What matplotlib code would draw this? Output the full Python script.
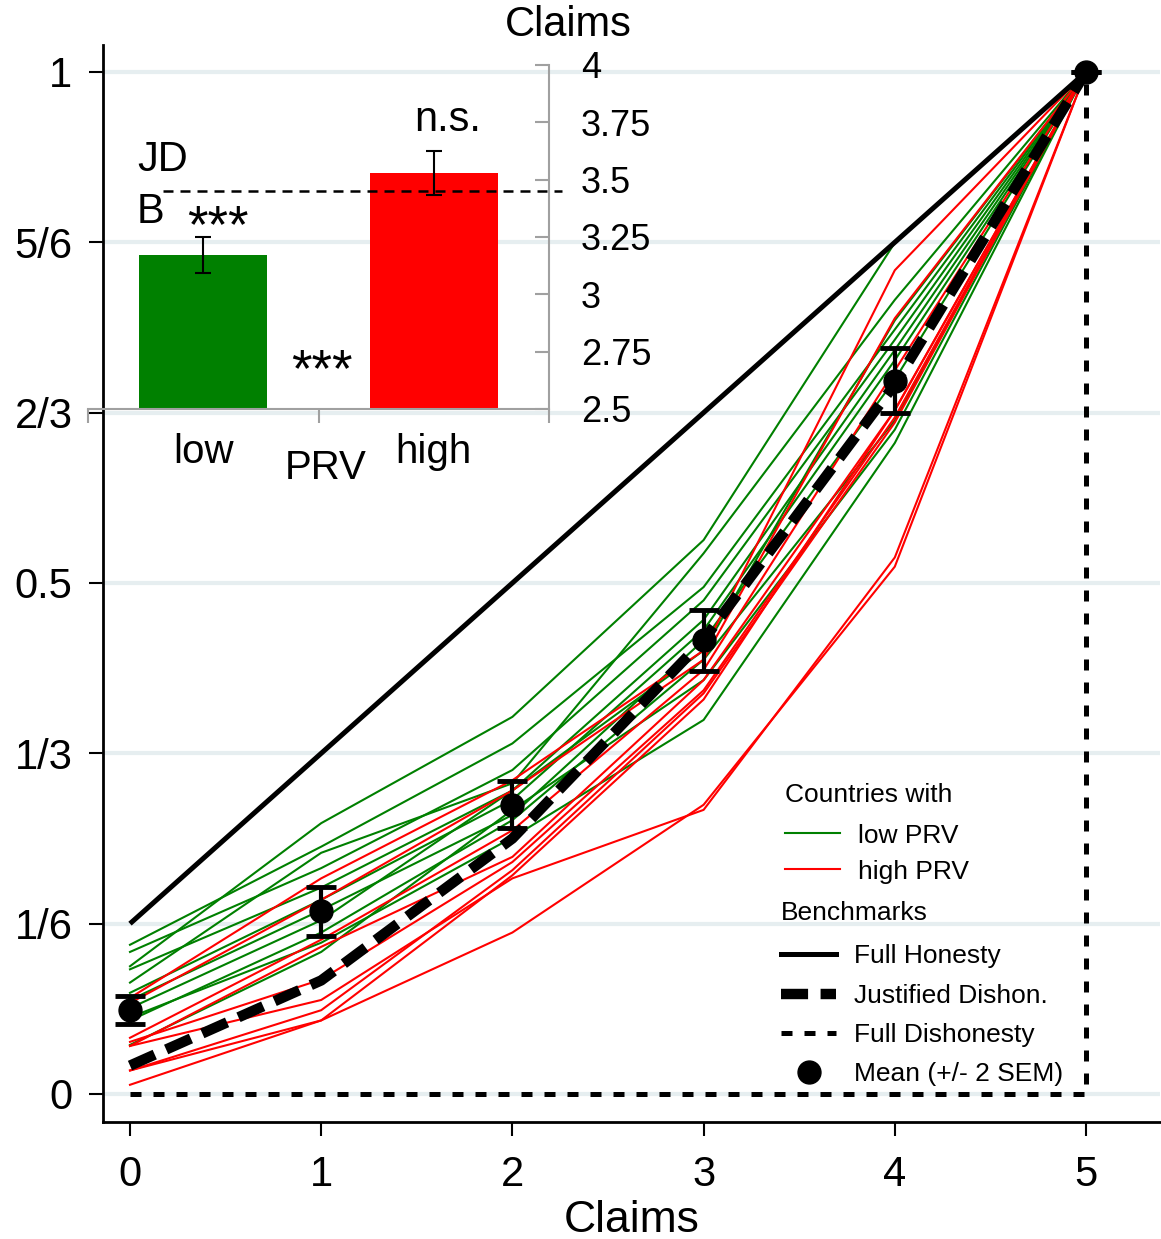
import matplotlib
matplotlib.use("Agg")
import matplotlib.pyplot as plt
from matplotlib.lines import Line2D

plt.rcParams['font.family'] = ['Liberation Sans', 'DejaVu Sans']

# ---------------- data ----------------
claims = [0, 1, 2, 3, 4, 5]
ytick_vals = [0, 1/6, 1/3, 0.5, 2/3, 5/6, 1]
ytick_labels = ['0', '1/6', '1/3', '0.5', '2/3', '5/6', '1']

full_honesty = [1/6, 2/6, 3/6, 4/6, 5/6, 1.0]
justified_dishonesty = [1/36, 4/36, 9/36, 16/36, 25/36, 1.0]
full_dishonesty_x = [0, 1, 2, 3, 4, 5, 5]
full_dishonesty_y = [0, 0, 0, 0, 0, 0, 1]

mean_cdf = [0.082, 0.179, 0.283, 0.444, 0.698, 1.0]
mean_err = [0.014, 0.024, 0.023, 0.030, 0.032, 0.0]

low_prv_lines = [
    [0.146, 0.242, 0.343, 0.496, 0.748, 1.0],
    [0.139, 0.221, 0.317, 0.483, 0.738, 1.0],
    [0.125, 0.265, 0.369, 0.542, 0.833, 1.0],
    [0.122, 0.202, 0.297, 0.464, 0.728, 1.0],
    [0.109, 0.236, 0.304, 0.529, 0.777, 1.0],
    [0.099, 0.190, 0.288, 0.454, 0.718, 1.0],
    [0.092, 0.180, 0.273, 0.444, 0.699, 1.0],
    [0.084, 0.170, 0.297, 0.434, 0.757, 1.0],
    [0.075, 0.148, 0.251, 0.366, 0.637, 1.0],
    [0.072, 0.158, 0.268, 0.425, 0.659, 1.0],
    [0.048, 0.139, 0.278, 0.405, 0.650, 1.0],
]
high_prv_lines = [
    [0.094, 0.211, 0.307, 0.434, 0.806, 1.0],
    [0.089, 0.190, 0.297, 0.425, 0.759, 1.0],
    [0.055, 0.151, 0.258, 0.415, 0.708, 1.0],
    [0.047, 0.144, 0.232, 0.405, 0.669, 1.0],
    [0.051, 0.112, 0.227, 0.395, 0.662, 1.0],
    [0.023, 0.082, 0.219, 0.392, 0.657, 1.0],
    [0.009, 0.072, 0.214, 0.386, 0.669, 1.0],
    [0.023, 0.072, 0.158, 0.283, 0.516, 1.0],
    [0.047, 0.092, 0.211, 0.278, 0.525, 1.0],
]

# inset data
inset_cats = ['low', 'high']
inset_means = [3.172, 3.529]
inset_errs = [0.079, 0.098]
inset_colors = ['#008000', '#ff0000']
inset_yticks = [2.5, 2.75, 3, 3.25, 3.5, 3.75, 4]
inset_ytick_labels = ['2.5', '2.75', '3', '3.25', '3.5', '3.75', '4']
jdb_value = 3.45

W, H = 1161, 1239
def fx(px):
    return px / W
def fy(py):
    return 1 - py / H

fig = plt.figure(figsize=(W / 100, H / 100), dpi=100)
ax = fig.add_axes([fx(103), fy(1122), (1160 - 103) / W, (1122 - 45) / H])

GREEN = '#008000'
RED = '#ff0000'

for ys in low_prv_lines:
    ax.plot(claims, ys, color=GREEN, lw=1.5, zorder=2)
for ys in high_prv_lines:
    ax.plot(claims, ys, color=RED, lw=1.5, zorder=2)

ax.plot(claims, full_honesty, color='black', lw=3.6, zorder=3, solid_capstyle='butt')
ax.plot(claims, justified_dishonesty, color='black', lw=7.5, dashes=(2.6, 1.2), zorder=4)
ax.plot(full_dishonesty_x, full_dishonesty_y, color='black', lw=3.6, dashes=(2.2, 2.4), zorder=4)
ax.errorbar(claims, mean_cdf, yerr=mean_err, fmt='o', color='black', ms=16.5,
            elinewidth=3, capsize=11, capthick=3.5, zorder=6)

ax.set_xlim(-0.1412, 5.387)
ax.set_ylim(-0.0274, 1.0264)
ax.set_xticks(claims)
ax.set_xticklabels([str(c) for c in claims])
ax.set_yticks(ytick_vals)
ax.set_yticklabels(ytick_labels)
ax.tick_params(axis='both', labelsize=30, length=10, width=1.5, direction='out')
ax.tick_params(axis='x', pad=14)
ax.tick_params(axis='y', pad=12)
for s in ['top', 'right']:
    ax.spines[s].set_visible(False)
for s in ['left', 'bottom']:
    ax.spines[s].set_linewidth(2)
ax.yaxis.grid(True, color='#e6eef0', lw=3)
ax.set_axisbelow(True)
ax.set_xlabel('Claims', fontsize=32, labelpad=3)

# legends
h_low = Line2D([], [], color=GREEN, lw=1.5)
h_high = Line2D([], [], color=RED, lw=1.5)
leg1 = ax.legend([h_low, h_high], ['low PRV', 'high PRV'], title='Countries with',
                 loc='upper left', bbox_to_anchor=((785 - 103) / 1057, (1122 - 783) / 1077),
                 frameon=False, fontsize=19, title_fontsize=19, handlelength=2.1,
                 handletextpad=0.65, labelspacing=0.45, borderpad=0, borderaxespad=0,
                 alignment='left')
leg1._legend_box.sep = 12
ax.add_artist(leg1)
h_fh = Line2D([], [], color='black', lw=3.6)
h_jd = Line2D([], [], color='black', lw=7.5, dashes=(2.6, 1.2))
h_fd = Line2D([], [], color='black', lw=3.6, dashes=(2.2, 2.4))
h_mean = Line2D([], [], color='black', marker='o', ms=16.5, lw=0)
leg2 = ax.legend([h_fh, h_jd, h_fd, h_mean],
                 ['Full Honesty', 'Justified Dishon.', 'Full Dishonesty', 'Mean (+/- 2 SEM)'],
                 title='Benchmarks', loc='upper left',
                 bbox_to_anchor=((781 - 103) / 1057, (1122 - 901) / 1077),
                 frameon=False, fontsize=19, title_fontsize=19, handlelength=2.1,
                 handletextpad=0.65, labelspacing=0.58, borderpad=0, borderaxespad=0,
                 alignment='left')
leg2._legend_box.sep = 14

# ---------------- inset ----------------
axi = fig.add_axes([fx(88), fy(409), (549 - 88) / W, (409 - 65) / H])
axi.patch.set_alpha(0)
xpos = list(range(len(inset_cats)))
axi.bar(xpos, inset_means, width=0.556, color=inset_colors, zorder=2)
axi.errorbar(xpos, inset_means, yerr=inset_errs, fmt='none', ecolor='black',
             elinewidth=1.5, capsize=6, capthick=1.5, zorder=3)
axi.axhline(jdb_value, xmin=(163 - 88) / 461, xmax=(562 - 88) / 461, color='black',
            lw=1.8, dashes=(4, 2.8), clip_on=False, zorder=4)
axi.set_xlim(-0.5, 1.5)
axi.set_ylim(2.5, 4)
axi.yaxis.tick_right()
axi.set_yticks(inset_yticks)
axi.set_yticklabels(inset_ytick_labels)
axi.tick_params(axis='y', direction='in', length=10, width=1.5, color='#a0a0a0',
                labelsize=26, pad=23)
axi.set_xticks(xpos)
axi.set_xticklabels(inset_cats)
axi.set_xticks([-0.5, 0.5, 1.5], minor=True)
axi.tick_params(axis='x', which='major', length=0, labelsize=29, pad=17)
axi.tick_params(axis='x', which='minor', length=10, width=1.5, color='#a0a0a0')
for s in ['top', 'left']:
    axi.spines[s].set_visible(False)
for s in ['bottom', 'right']:
    axi.spines[s].set_color('#a0a0a0')
    axi.spines[s].set_linewidth(1.5)

fig.text(fx(326), fy(468), 'PRV', fontsize=29, ha='center', va='center')
fig.text(fx(568), fy(25), 'Claims', fontsize=30, ha='center', va='center')
fig.text(fx(137), fy(160), 'JD', fontsize=30, ha='left', va='center')
fig.text(fx(137), fy(212), 'B', fontsize=30, ha='left', va='center')
fig.text(fx(218), fy(228), '***', fontsize=38, ha='center', va='center')
fig.text(fx(322), fy(372), '***', fontsize=38, ha='center', va='center')
fig.text(fx(448), fy(120), 'n.s.', fontsize=30, ha='center', va='center')

fig.savefig('out.png', dpi=100)
